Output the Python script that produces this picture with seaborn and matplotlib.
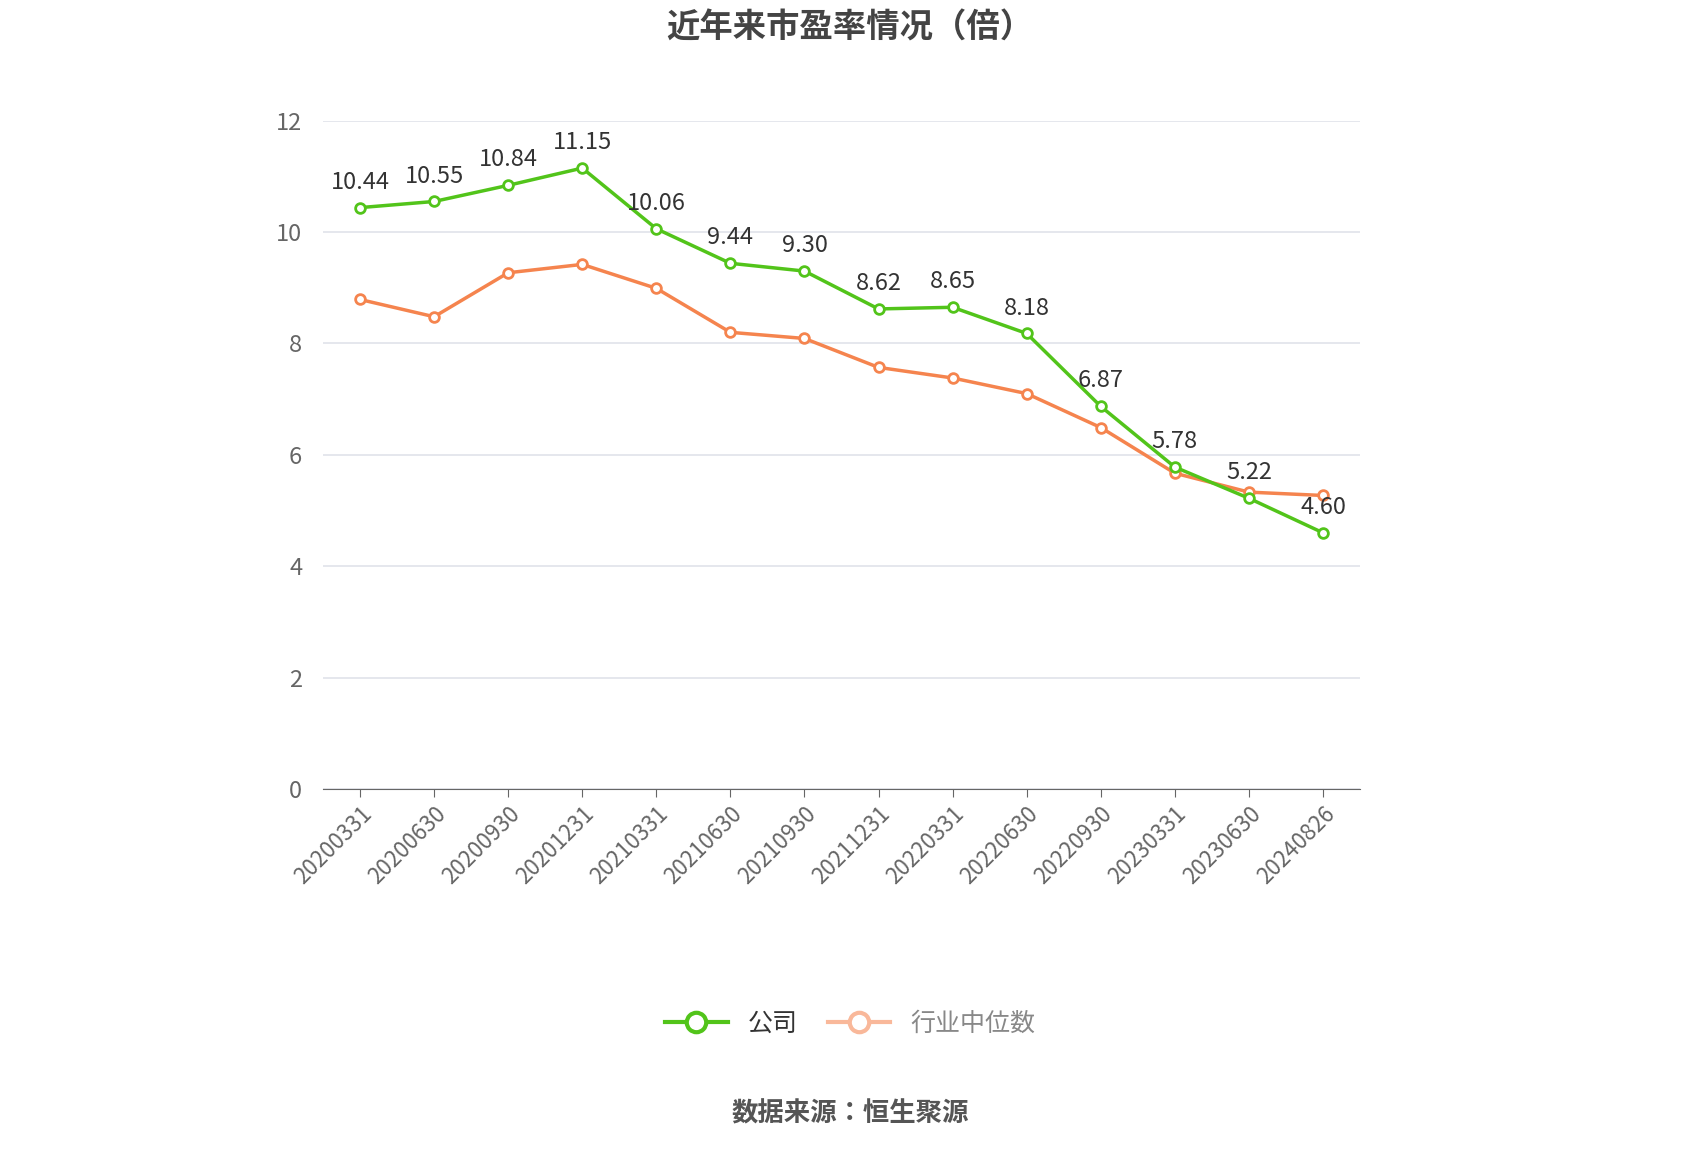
import matplotlib
matplotlib.use("Agg")
import matplotlib.pyplot as plt
from matplotlib import font_manager as fm
import seaborn as sns
import pandas as pd
from matplotlib.lines import Line2D

cjk = [f.name for f in fm.fontManager.ttflist if "CJK" in f.name]
pref = [n for n in cjk if "SC" in n] or cjk
family = (pref[:1] if pref else []) + ["DejaVu Sans"]
plt.rcParams["font.family"] = family
plt.rcParams["font.sans-serif"] = family

dates = ["20200331","20200630","20200930","20201231","20210331","20210630","20210930",
         "20211231","20220331","20220630","20220930","20230331","20230630","20240826"]
company = [10.44,10.55,10.84,11.15,10.06,9.44,9.30,8.62,8.65,8.18,6.87,5.78,5.22,4.60]
industry = [8.79,8.48,9.27,9.42,8.99,8.20,8.09,7.57,7.38,7.10,6.49,5.67,5.33,5.27]

df = pd.DataFrame({"x": range(len(dates)), "company": company, "industry": industry})

fig = plt.figure(figsize=(17, 11.5), dpi=100)
ax = fig.add_axes([0.19, 0.314, 0.61, 0.581])
green = "#52c41a"; orange = "#f5844e"
sns.lineplot(data=df, x="x", y="industry", ax=ax, color=orange, lw=2.5, marker="o",
             markersize=7, markerfacecolor="white", markeredgecolor=orange, markeredgewidth=2)
sns.lineplot(data=df, x="x", y="company", ax=ax, color=green, lw=2.5, marker="o",
             markersize=7, markerfacecolor="white", markeredgecolor=green, markeredgewidth=2)
for i, v in enumerate(company):
    ax.annotate(f"{v:.2f}", (i, v), xytext=(0, 10), textcoords="offset points",
                ha="center", va="bottom", fontsize=17, color="#333333")
ax.set_xlim(-0.5, len(dates) - 0.5)
ax.set_ylim(0, 12)
ax.set_yticks(range(0, 13, 2))
ax.set_xticks(range(len(dates)))
ax.set_xticklabels(dates, rotation=45, ha="right", rotation_mode="anchor", fontsize=16, color="#666666")
ax.tick_params(axis="y", labelsize=17, colors="#666666", length=0, pad=15)
ax.tick_params(axis="x", length=6, color="#666666")
ax.grid(axis="y", color="#e0e3ea", lw=1.2)
ax.set_axisbelow(True)
for s in ["top", "right", "left"]:
    ax.spines[s].set_visible(False)
ax.spines["bottom"].set_color("#666666")
ax.set_xlabel(""); ax.set_ylabel("")

fig.suptitle("近年来市盈率情况（倍）", y=0.99, fontsize=24, fontweight="bold", color="#444444")
handles = [Line2D([], [], color=green, lw=3, marker="o", markersize=14, markerfacecolor="white", markeredgewidth=3),
           Line2D([], [], color="#f9b89a", lw=3, marker="o", markersize=14, markerfacecolor="white", markeredgewidth=3)]
leg = fig.legend(handles, ["公司", "行业中位数"], loc="center", bbox_to_anchor=(0.5, 0.11), ncol=2,
                 frameon=False, fontsize=18, handlelength=2.5, columnspacing=1.2)
leg.get_texts()[1].set_color("#888888")
leg.get_texts()[0].set_color("#333333")
fig.text(0.5, 0.025, "数据来源：恒生聚源", ha="center", fontsize=19, fontweight="bold", color="#555555")
fig.savefig("out.png", dpi=100)
